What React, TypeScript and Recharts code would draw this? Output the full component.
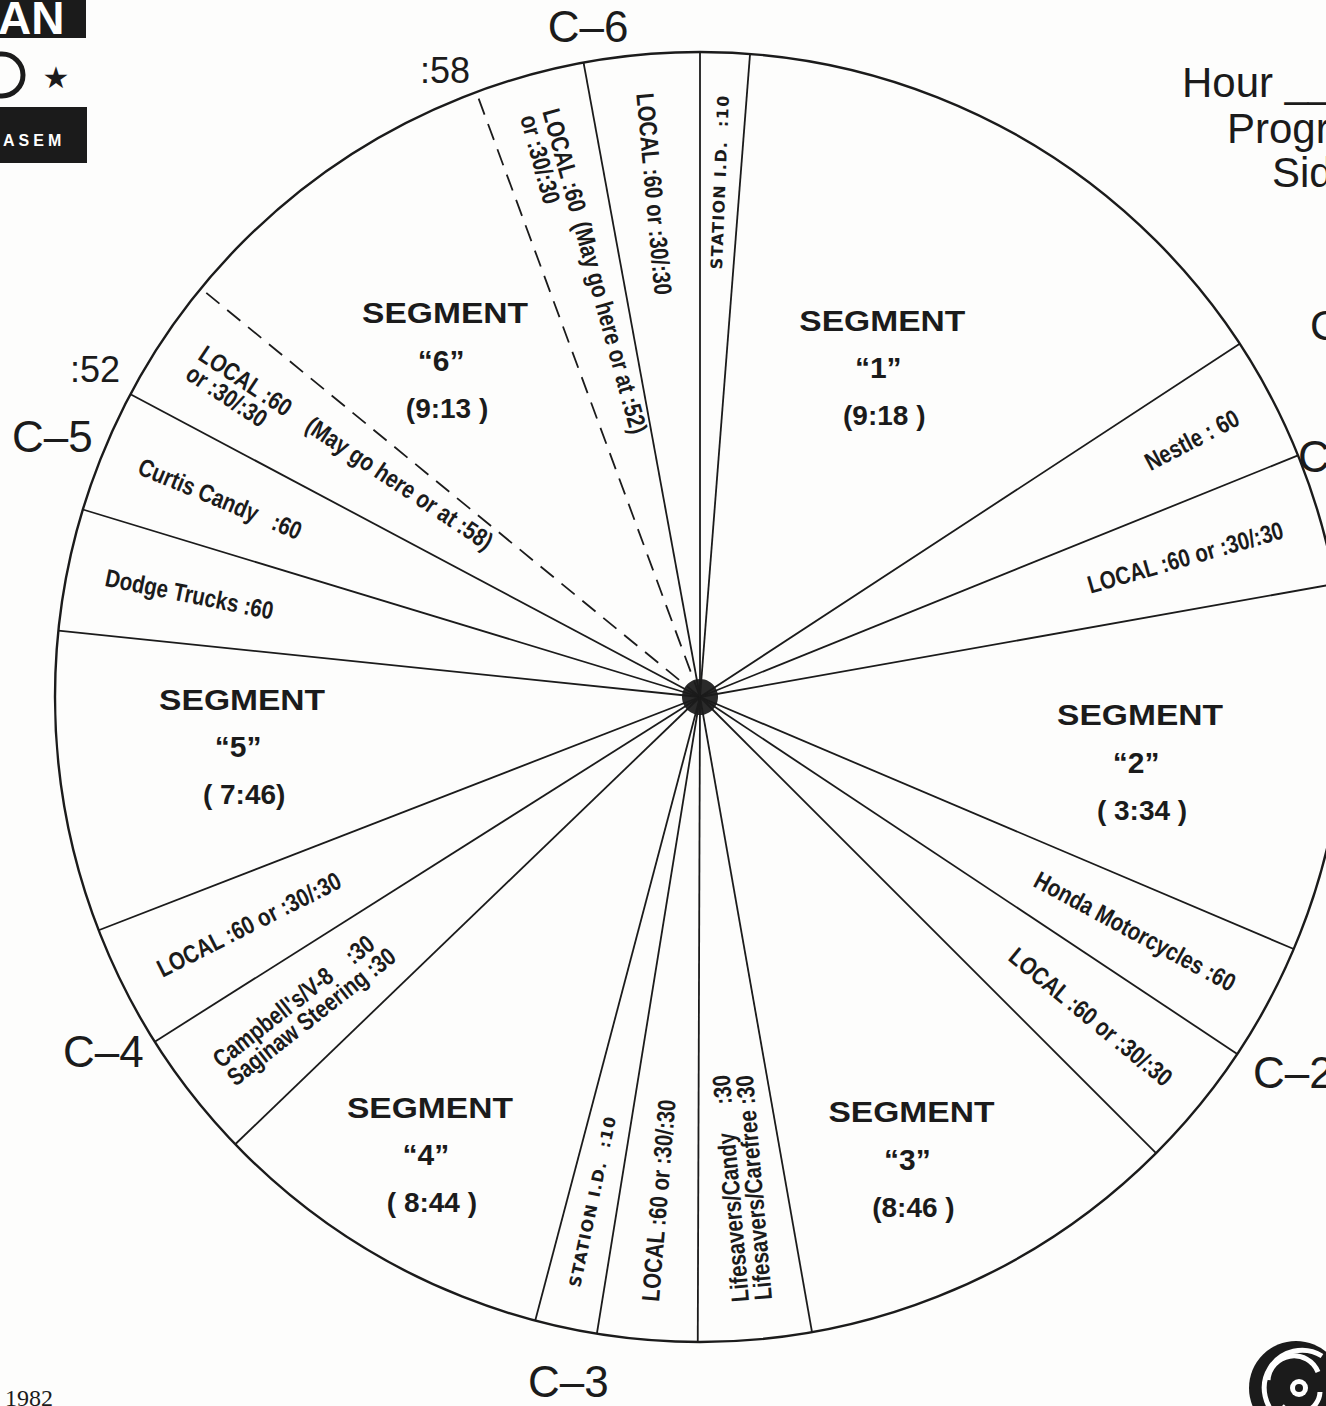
import { PieChart, Pie, Cell } from "recharts"

// hot clock slots, clockwise from the top of the hour
const slotNames = [
  "Station ID", "Segment 1", "Nestle", "Local", "Segment 2", "Honda", "Local",
  "Segment 3", "Lifesavers", "Local", "Station ID", "Segment 4", "Campbell's", "Local",
  "Segment 5", "Dodge", "Curtis", "Local (opt :58)", "Segment 6", "Local (opt :52)", "Local",
]
const slotKinds = [
  "id", "segment", "spot", "spot", "segment", "spot", "spot",
  "segment", "spot", "spot", "id", "segment", "spot", "spot",
  "segment", "spot", "spot", "spot", "segment", "spot", "spot",
]
// arc of each slot as drawn on the wheel (degrees)
const slotArcs = [
  4.45, 52.35, 11.2, 11.9, 33.1, 10.6, 11.4,
  35.0, 10.2, 9.0, 5.6, 31.3, 11.6, 11.1,
  27.1, 11.0, 11.1, 11.3, 30.4, 9.9, 10.4,
]
const slotText: string[][] = [
  ["STATION I.D.  :10"],
  [],
  ["Nestle : 60"],
  ["LOCAL :60 or :30/:30"],
  [],
  ["Honda Motorcycles :60"],
  ["LOCAL :60 or :30/:30"],
  [],
  ["Lifesavers/Candy     :30", "Lifesavers/Carefree :30"],
  ["LOCAL :60 or :30/:30"],
  ["STATION I.D.  :10"],
  [],
  ["Campbell's/V-8    :30", "Saginaw Steering :30"],
  ["LOCAL :60 or :30/:30"],
  [],
  ["Dodge Trucks :60"],
  ["Curtis Candy   :60"],
  ["LOCAL :60    (May go here or at :58)", "or :30/:30"],
  [],
  ["LOCAL :60  (May go here or at :52)", "or :30/:30"],
  ["LOCAL :60 or :30/:30"],
]
const segmentNumbers = ["1", "2", "3", "4", "5", "6"]
const segmentTimes = ["(9:18 )", "( 3:34 )", "(8:46 )", "( 8:44 )", "( 7:46)", "(9:13 )"]

let segCount = 0
const slots = slotNames.map((name, i) => ({
  name,
  kind: slotKinds[i],
  arc: slotArcs[i],
  lines: slotText[i],
  seg: slotKinds[i] === "segment" ? segCount++ : -1,
}))
const hub = [{ name: "hub", v: 1 }]

const INK = "#1b1b1b"
const PAPER = "#fdfdfc"
const CX = 700
const CY = 697
const RADIUS = 645
const DASHED_EDGES = [18, 19]
const SEGMENT_NUDGE = [[-51, 18], [-15, -33], [0, 9], [-38, 16], [-4, -58], [11, -11]]
const HELV = "'Liberation Sans', Arial, Helvetica, sans-serif"

const RAD = Math.PI / 180
const polar = (cx: number, cy: number, r: number, a: number) => ({
  x: cx + r * Math.cos(-a * RAD),
  y: cy + r * Math.sin(-a * RAD),
})

const SlotLabel = (props: any) => {
  const { cx, cy, startAngle, endAngle, outerRadius, index, payload } = props
  const slot = payload && payload.kind ? payload : slots[index]
  const mid = (startAngle + endAngle) / 2
  const edge = polar(cx, cy, outerRadius, startAngle)
  const dashed = DASHED_EDGES.includes(index)

  let body = null
  if (slot.kind === "segment") {
    const p = polar(cx, cy, outerRadius * 0.71, mid)
    const [dx, dy] = SEGMENT_NUDGE[slot.seg]
    const x = p.x + dx
    const y = p.y + dy
    body = (
      <g fill={INK} fontFamily={HELV} fontWeight={700} textAnchor="middle">
        <text x={x} y={y} dominantBaseline="central" fontSize={29} textLength={166} lengthAdjust="spacingAndGlyphs">
          SEGMENT
        </text>
        <text x={x - 4} y={y + 47} dominantBaseline="central" fontSize={30}>
          {`“${segmentNumbers[slot.seg]}”`}
        </text>
        <text x={x + 2} y={y + 95} dominantBaseline="central" fontSize={28} style={{ whiteSpace: "pre" }}>
          {segmentTimes[slot.seg]}
        </text>
      </g>
    )
  } else {
    let rot = -mid
    rot = ((rot % 360) + 540) % 360 - 180
    const flipped = rot > 80 || rot < -90
    if (flipped) rot = ((rot + 180 + 540) % 360) - 180
    const isId = slot.kind === "id"
    const anchor = polar(cx, cy, outerRadius * (isId ? 0.935 : 0.94), mid)
    const n = slot.lines.length
    const gap = 23
    body = (
      <text
        transform={`translate(${anchor.x},${anchor.y}) rotate(${rot})${isId ? "" : " scale(0.82,1)"}`}
        fill={INK}
        fontFamily={isId ? "'DejaVu Sans', Verdana, sans-serif" : HELV}
        fontWeight={isId ? 600 : 700}
        fontSize={isId ? 16 : 25}
        letterSpacing={isId ? 1.3 : 0}
        textAnchor={flipped ? "start" : "end"}
        style={{ whiteSpace: "pre" }}
      >
        {slot.lines.map((line: string, k: number) => (
          <tspan key={k} x={0} y={(k - (n - 1) / 2) * gap} dominantBaseline="central">
            {line}
          </tspan>
        ))}
      </text>
    )
  }

  return (
    <g>
      {index === 0 && <circle cx={cx} cy={cy} r={outerRadius} fill="none" stroke={INK} strokeWidth={2.4} />}
      <line
        x1={cx}
        y1={cy}
        x2={edge.x}
        y2={edge.y}
        stroke={INK}
        strokeWidth={1.8}
        strokeDasharray={dashed ? "17 10" : undefined}
      />
      {body}
    </g>
  )
}

const Decor = () => (
  <svg width={1326} height={1406} style={{ position: "absolute", left: 0, top: 0, pointerEvents: "none" }}>
    <g fill={INK} fontFamily={HELV}>
      <text x={588} y={42} fontSize={44} textAnchor="middle">C–6</text>
      <text x={420} y={83} fontSize={36}>:58</text>
      <text x={70} y={382} fontSize={36}>:52</text>
      <text x={12} y={452} fontSize={44}>C–5</text>
      <text x={63} y={1067} fontSize={44}>C–4</text>
      <text x={528} y={1397} fontSize={44}>C–3</text>
      <text x={1253} y={1088} fontSize={44}>C–2</text>
      <text x={1298} y={472} fontSize={44}>C–1</text>
      <text x={1182} y={97} fontSize={42}>Hour ____</text>
      <text x={1227} y={143} fontSize={42}>Program</text>
      <text x={1272} y={187} fontSize={42}>Side</text>
      <text x={1310} y={340} fontSize={42}>C</text>
    </g>
    <rect x={0} y={0} width={86} height={38} fill={INK} />
    <text x={-2} y={34} fontSize={46} fontWeight={700} fontFamily={HELV} fill="#fff">AN</text>
    <circle cx={2} cy={75} r={21} fill="none" stroke={INK} strokeWidth={5} />
    <text x={56} y={88} fontSize={30} textAnchor="middle" fill={INK} fontFamily="'DejaVu Sans', sans-serif">★</text>
    <rect x={0} y={107} width={87} height={56} fill={INK} />
    <text x={3} y={146} fontSize={16} fontWeight={700} letterSpacing={4} fontFamily={HELV} fill="#fff">ASEM</text>
    <text x={5} y={1406} fontSize={24} fontFamily="'Liberation Serif', 'Times New Roman', serif" fill={INK}>1982</text>
    <g>
      <circle cx={1296} cy={1388} r={47} fill={INK} />
      <path d="M1322 1356 A36 36 0 1 0 1282 1420" fill="none" stroke="#fff" strokeWidth={5} />
      <path d="M1268 1380 A26 26 0 0 1 1318 1372" fill="none" stroke="#fff" strokeWidth={5} />
      <path d="M1320 1392 A22 22 0 0 1 1282 1406" fill="none" stroke="#fff" strokeWidth={5} />
      <circle cx={1299} cy={1388} r={9} fill="#fff" />
      <circle cx={1299} cy={1388} r={4} fill={INK} />
    </g>
  </svg>
)

export default function App() {
  return (
    <div style={{ position: "absolute", left: 0, top: 0, width: 1326, height: 1406, background: PAPER, overflow: "hidden" }}>
      <PieChart width={1326} height={1406} margin={{ top: 0, right: 0, bottom: 0, left: 0 }}>
        <Pie
          data={slots}
          dataKey="arc"
          nameKey="name"
          cx={CX}
          cy={CY}
          outerRadius={RADIUS}
          startAngle={90}
          endAngle={-270}
          stroke="none"
          label={SlotLabel}
          labelLine={false}
          isAnimationActive={false}
        >
          {slots.map((s, i) => (
            <Cell key={i} fill={PAPER} />
          ))}
        </Pie>
        <Pie
          data={hub}
          dataKey="v"
          cx={CX}
          cy={CY}
          outerRadius={18}
          stroke="none"
          fill="#2a2a2a"
          isAnimationActive={false}
        />
      </PieChart>
      <Decor />
    </div>
  )
}
